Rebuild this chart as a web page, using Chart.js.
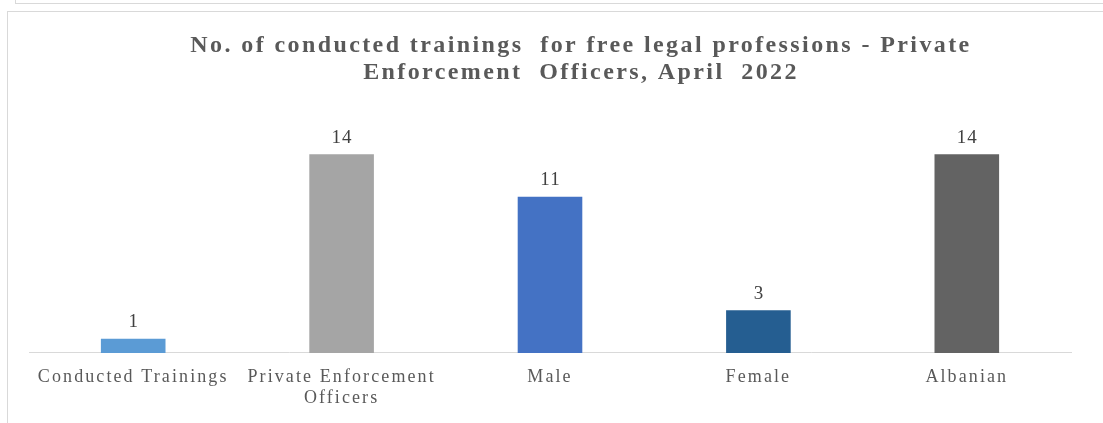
<!DOCTYPE html>
<html lang="en">
<head>
    <meta charset="UTF-8">
    <title>No. of conducted trainings</title>
    <script src="https://cdn.jsdelivr.net/npm/chart.js"></script>
    <style>
        body {
            margin: 0;
            background: #ffffff;
            overflow: hidden;
        }
        .top-strip {
            position: absolute;
            left: 15px;
            top: -10px;
            width: 1200px;
            height: 12px;
            border: 1px solid #d9d9d9;
        }
        .chart-box {
            position: absolute;
            left: 7px;
            top: 11px;
            width: 1146px;
            height: 430px;
            border: 1px solid #d9d9d9;
            border-width: 1px 0 0 1px;
        }
        .chart-box canvas {
            display: block;
        }
    </style>
</head>
<body>
    <div class="top-strip"></div>
    <div class="chart-box">
        <canvas id="trainingsChart" width="1125" height="420"></canvas>
    </div>

    <script>
        // Datos del gráfico
        const categories = ['Conducted Trainings', ['Private Enforcement', 'Officers'], 'Male', 'Female', 'Albanian'];
        const values = [1, 14, 11, 3, 14];
        const barColors = ['#5b9bd5', '#a5a5a5', '#4472c4', '#255e91', '#636363'];

        // El texto original está algo estirado: espaciado entre letras
        const letterSpacing = {
            id: 'letterSpacing',
            beforeDraw(chart) {
                chart.ctx.letterSpacing = '2.4px';   // título
            },
            afterDatasetsDraw(chart) {
                const ctx = chart.ctx;
                const meta = chart.getDatasetMeta(0);
                // Etiquetas de valor encima de cada barra
                ctx.save();
                ctx.letterSpacing = '1px';
                ctx.font = '19px "Liberation Serif", serif';
                ctx.fillStyle = '#404040';
                ctx.textAlign = 'center';
                ctx.textBaseline = 'bottom';
                meta.data.forEach((bar, i) => {
                    ctx.fillText(String(values[i]), bar.x + 0.5, bar.y - 7);
                });
                ctx.restore();
                ctx.letterSpacing = '2.1px';   // etiquetas del eje x
            }
        };

        new Chart(document.getElementById('trainingsChart'), {
            type: 'bar',
            data: {
                labels: categories,
                datasets: [{
                    data: values,
                    backgroundColor: barColors,
                    categoryPercentage: 1,
                    barPercentage: 0.31
                }]
            },
            plugins: [letterSpacing],
            options: {
                responsive: false,
                animation: false,
                layout: {
                    padding: { left: 21, right: 0, top: 20, bottom: 17 }
                },
                plugins: {
                    legend: { display: false },
                    tooltip: { enabled: false },
                    title: {
                        display: true,
                        text: ['No. of conducted trainings  for free legal professions - Private', 'Enforcement  Officers, April  2022'],
                        color: '#595959',
                        font: { family: '"Liberation Serif", serif', size: 24, weight: 'bold', lineHeight: 1.12 },
                        padding: { top: 0, bottom: 40 }
                    }
                },
                scales: {
                    x: {
                        grid: { display: false },
                        border: { color: '#d9d9d9', width: 1 },
                        ticks: {
                            z: 1,
                            color: '#595959',
                            font: { family: '"Liberation Serif", serif', size: 18, lineHeight: 1.17 },
                            padding: 6,
                            maxRotation: 0,
                            autoSkip: false
                        }
                    },
                    y: {
                        position: 'right',
                        min: 0,
                        max: 16,
                        grid: { display: false },
                        border: { display: false },
                        ticks: { display: false },
                        // espacio vacío a la derecha del eje, el título queda centrado en el recuadro
                        afterFit(scale) {
                            scale.width = 62;
                        }
                    }
                }
            }
        });
    </script>
</body>
</html>
